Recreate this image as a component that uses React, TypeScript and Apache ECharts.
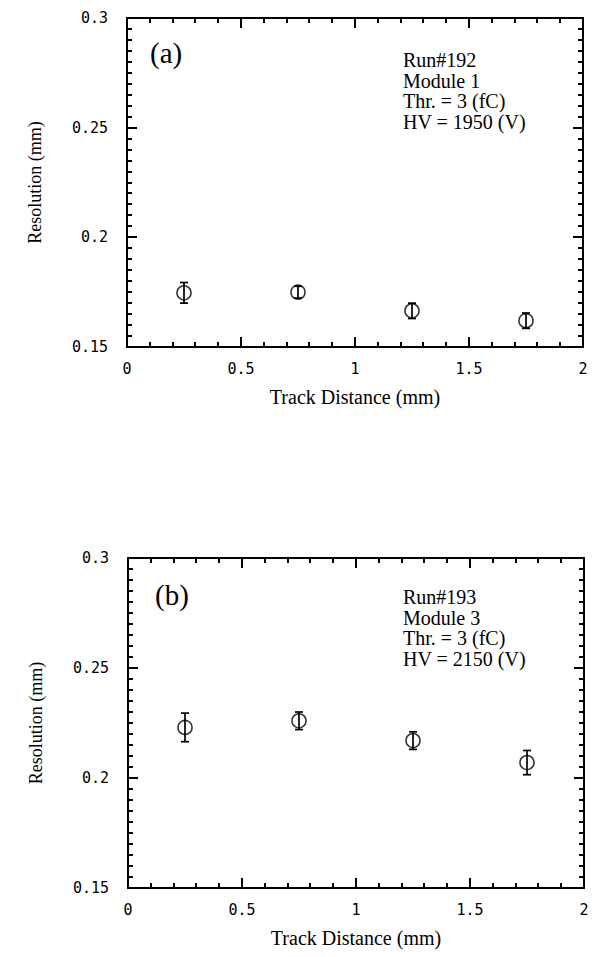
import React, { useEffect, useRef } from "react";
import * as echarts from "echarts";

// ---- data ----
const trackDistance = [0.25, 0.75, 1.25, 1.75];
const resolutionA = [0.1747, 0.175, 0.1665, 0.162];
const errorA = [0.0047, 0.0027, 0.0035, 0.0035];
const resolutionB = [0.223, 0.226, 0.217, 0.207];
const errorB = [0.0065, 0.004, 0.004, 0.0055];

const panelLabels = ["(a)", "(b)"];
const infoA = ["Run#192", "Module 1", "Thr. = 3 (fC)", "HV = 1950 (V)"];
const infoB = ["Run#193", "Module 3", "Thr. = 3 (fC)", "HV = 2150 (V)"];

// axis ranges and tick steps
const xMin = 0, xMax = 2, xInterval = 0.5, xMinorSteps = 5;
const yMin = 0.15, yMax = 0.3, yInterval = 0.05, yMinorSteps = 10;

const xTitle = "Track Distance (mm)";
const yTitle = "Resolution (mm)";

const SERIF = "'Liberation Serif', 'Times New Roman', serif";
const MONO = "'DejaVu Sans Mono', 'Liberation Mono', monospace";

function tickValues(min: number, max: number, major: number, steps: number) {
  const out: { v: number; major: boolean }[] = [];
  const n = Math.round((max - min) / major) * steps;
  for (let i = 0; i <= n; i++) {
    out.push({ v: min + (i * major) / steps, major: i % steps === 0 });
  }
  return out;
}

export default function App() {
  const ref = useRef<HTMLDivElement>(null);

  useEffect(() => {
    if (!ref.current) return;
    const chart = echarts.init(ref.current, undefined, { renderer: "svg" });

    const grids = [
      { left: 127, top: 18, width: 456, height: 329 },
      { left: 128, top: 558, width: 456, height: 330 },
    ];

    const lineOn = { show: true, onZero: false, lineStyle: { color: "#000", width: 2 } };

    const xAxes: any[] = [];
    const yAxes: any[] = [];
    grids.forEach((_, gi) => {
      ["bottom", "top"].forEach((pos, k) => {
        xAxes.push({
          type: "value",
          gridIndex: gi,
          position: pos,
          min: xMin,
          max: xMax,
          interval: xInterval,
          axisLine: lineOn,
          axisTick: { show: false },
          splitLine: { show: false },
          axisLabel: {
            show: k === 0,
            margin: 14,
            color: "#000",
            fontSize: 15,
            fontFamily: MONO,
          },
          name: k === 0 ? xTitle : "",
          nameLocation: "middle",
          nameGap: 40,
          nameTextStyle: { fontFamily: SERIF, fontSize: 20, color: "#000" },
        });
      });
      ["left", "right"].forEach((pos, k) => {
        yAxes.push({
          type: "value",
          gridIndex: gi,
          position: pos,
          min: yMin,
          max: yMax,
          interval: yInterval,
          axisLine: lineOn,
          axisTick: { show: false },
          splitLine: { show: false },
          axisLabel: {
            show: k === 0,
            margin: 19,
            color: "#000",
            fontSize: 15,
            fontFamily: MONO,
          },
          name: k === 0 ? yTitle : "",
          nameLocation: "middle",
          nameGap: 83,
          nameRotate: 90,
          nameTextStyle: { fontFamily: SERIF, fontSize: 18, color: "#000" },
        });
      });
    });

    const xt = tickValues(xMin, xMax, xInterval, xMinorSteps);
    const yt = tickValues(yMin, yMax, yInterval, yMinorSteps);
    const MAJOR = 10, MINOR = 5;

    const renderTicks = (params: any, api: any) => {
      const children: any[] = [];
      const st = { stroke: "#000", lineWidth: 2 };
      xt.forEach((t) => {
        const L = t.major ? MAJOR : MINOR;
        const b = api.coord([t.v, yMin]);
        const tp = api.coord([t.v, yMax]);
        const xb = Math.round(b[0]);
        children.push({ type: "line", shape: { x1: xb, y1: b[1], x2: xb, y2: b[1] - L }, style: st });
        children.push({ type: "line", shape: { x1: xb, y1: tp[1], x2: xb, y2: tp[1] + L }, style: st });
      });
      yt.forEach((t) => {
        const L = t.major ? MAJOR : MINOR;
        const l = api.coord([xMin, t.v]);
        const r = api.coord([xMax, t.v]);
        const yy = Math.round(l[1]);
        children.push({ type: "line", shape: { x1: l[0], y1: yy, x2: l[0] + L, y2: yy }, style: st });
        children.push({ type: "line", shape: { x1: r[0], y1: yy, x2: r[0] - L, y2: yy }, style: st });
      });
      return { type: "group", children };
    };

    const renderErr = (params: any, api: any) => {
      const x = api.value(0);
      const y = api.value(1);
      const e = api.value(2);
      const t = api.coord([x, y + e]);
      const b = api.coord([x, y - e]);
      const hw = 4;
      const st = { stroke: "#000", lineWidth: 1.7 };
      return {
        type: "group",
        children: [
          { type: "line", shape: { x1: t[0], y1: t[1], x2: b[0], y2: b[1] }, style: st },
          { type: "line", shape: { x1: t[0] - hw, y1: t[1], x2: t[0] + hw, y2: t[1] }, style: st },
          { type: "line", shape: { x1: b[0] - hw, y1: b[1], x2: b[0] + hw, y2: b[1] }, style: st },
        ],
      };
    };

    const panels = [
      { res: resolutionA, err: errorA },
      { res: resolutionB, err: errorB },
    ];

    const series: any[] = [];
    panels.forEach((p, gi) => {
      const pts = trackDistance.map((x, i) => [x, p.res[i], p.err[i]]);
      series.push({
        type: "custom",
        xAxisIndex: gi * 2,
        yAxisIndex: gi * 2,
        data: [[xMin, yMin]],
        encode: { x: 0, y: 1 },
        clip: false,
        silent: true,
        z: 5,
        renderItem: renderTicks,
      });
      series.push({
        type: "scatter",
        xAxisIndex: gi * 2,
        yAxisIndex: gi * 2,
        data: pts.map((d) => [d[0], d[1]]),
        symbol: "circle",
        symbolSize: 14,
        itemStyle: { color: "rgba(0,0,0,0)", borderColor: "#000", borderWidth: 1.6 },
        emphasis: { disabled: true },
      });
      series.push({
        type: "custom",
        xAxisIndex: gi * 2,
        yAxisIndex: gi * 2,
        data: pts,
        encode: { x: 0, y: 1 },
        renderItem: renderErr,
      });
    });

    const textStyle = (t: string, size: number, lh: number) => ({
      text: t,
      fontFamily: SERIF,
      fontSize: size,
      lineHeight: lh,
      fill: "#000",
      verticalAlign: "top",
      align: "left",
    });

    const graphic = [
      { type: "text", x: 150, y: 38, style: textStyle(panelLabels[0], 29, 30) },
      { type: "text", x: 403, y: 50, style: textStyle(infoA.join("\n"), 20, 20.5) },
      { type: "text", x: 155, y: 580, style: textStyle(panelLabels[1], 29, 30) },
      { type: "text", x: 403, y: 587, style: textStyle(infoB.join("\n"), 20, 20.5) },
    ];

    chart.setOption({
      animation: false,
      backgroundColor: "#fff",
      grid: grids,
      xAxis: xAxes,
      yAxis: yAxes,
      series,
      graphic,
    });

    return () => chart.dispose();
  }, []);

  return (
    <div
      ref={ref}
      style={{ position: "fixed", left: 0, top: 0, width: 597, height: 957, background: "#fff" }}
    />
  );
}
